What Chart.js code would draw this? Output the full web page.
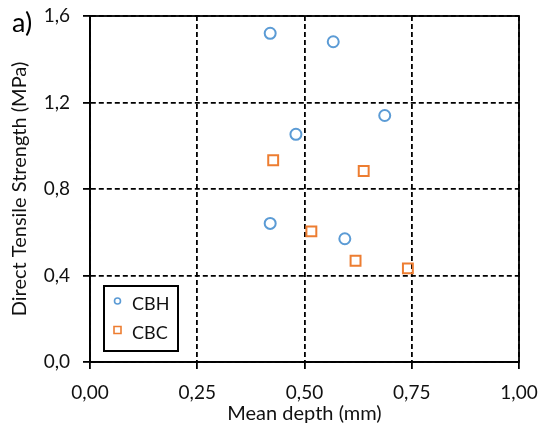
<!DOCTYPE html>
<html lang="en">
<head>
<meta charset="UTF-8">
<title>Direct tensile strength vs mean depth</title>
<script src="https://cdn.jsdelivr.net/npm/chart.js"></script>
<style>
  html, body { margin: 0; padding: 0; background: #fff; }
</style>
</head>
<body>
<canvas id="chart" width="542" height="432"></canvas>
<script>
// mean depth (mm) / direct tensile strength (MPa) for each specimen
const cbhDepth    = [0.420, 0.567, 0.687, 0.480, 0.420, 0.594];
const cbhStrength = [1.520, 1.481, 1.140, 1.053, 0.641, 0.570];
const cbcDepth    = [0.427, 0.638, 0.516, 0.619, 0.741];
const cbcStrength = [0.933, 0.883, 0.604, 0.468, 0.433];

const seriesNames = ['CBH', 'CBC'];
const xRange = [0, 1, 0.25];    // min, max, step
const yRange = [0, 1.6, 0.4];

const FONT = 'Lato, "Open Sans", sans-serif';
const TICK_SIZE = 19;
const TITLE_SIZE = 20;
const BLUE = '#5B9BD5';
const ORANGE = '#ED7D31';

const toPoints = (xs, ys) => xs.map((x, i) => ({ x: x, y: ys[i] }));

// solid frame round the plot area (the outer grid lines are dashed otherwise)
const frame = {
    id: 'frame',
    beforeDatasetsDraw(chart) {
        const { ctx, chartArea: a } = chart;
        ctx.save();
        ctx.strokeStyle = '#000';
        ctx.lineWidth = 1.8;
        ctx.strokeRect(a.left, a.top, a.right - a.left, a.bottom - a.top);
        ctx.restore();
    }
};

// boxed legend sitting in the lower left corner of the plot
const legendBox = {
    id: 'legendBox',
    afterDatasetsDraw(chart) {
        const { ctx, chartArea: a } = chart;
        const x = a.left + 14, y = a.bottom - 76, w = 74, h = 65;
        ctx.save();
        ctx.fillStyle = '#fff';
        ctx.fillRect(x, y, w, h);
        ctx.strokeStyle = '#000';
        ctx.lineWidth = 2;
        ctx.strokeRect(x, y, w, h);
        chart.data.datasets.forEach((ds, i) => {
            const cy = y + 15 + i * 29;
            const cx = x + 13.5;
            ctx.strokeStyle = ds.borderColor;
            ctx.lineWidth = 1.6;
            ctx.beginPath();
            if (ds.pointStyle === 'rect') {
                ctx.rect(cx - 3.5, cy - 3.5, 7, 7);
            } else {
                ctx.arc(cx, cy, 3, 0, Math.PI * 2);
            }
            ctx.stroke();
            ctx.fillStyle = '#111';
            ctx.font = '18px ' + FONT;
            ctx.textBaseline = 'middle';
            ctx.textAlign = 'left';
            ctx.fillText(ds.label, x + 28, cy + 3);
        });
        ctx.restore();
    }
};

// panel letter top left
const panelTag = {
    id: 'panelTag',
    afterDraw(chart) {
        const ctx = chart.ctx;
        ctx.save();
        ctx.fillStyle = '#000';
        ctx.font = '27px ' + FONT;
        ctx.textBaseline = 'middle';
        ctx.textAlign = 'left';
        ctx.fillText('a)', 12, 23);
        ctx.restore();
    }
};

const gridOpts = {
    color: '#000',
    lineWidth: 1.8,
    tickLength: 7,
    tickBorderDash: []
};

new Chart(document.getElementById('chart'), {
    type: 'scatter',
    data: {
        datasets: [
            {
                label: seriesNames[0],
                data: toPoints(cbhDepth, cbhStrength),
                pointStyle: 'circle',
                pointRadius: 5.5,
                pointBorderWidth: 2,
                borderColor: BLUE,
                backgroundColor: 'rgba(0,0,0,0)'
            },
            {
                label: seriesNames[1],
                data: toPoints(cbcDepth, cbcStrength),
                pointStyle: 'rect',
                pointRadius: 7,
                pointBorderWidth: 2,
                borderColor: ORANGE,
                backgroundColor: 'rgba(0,0,0,0)'
            }
        ]
    },
    options: {
        responsive: false,
        animation: false,
        devicePixelRatio: 1,
        layout: { padding: { left: 0, right: 23, top: 16, bottom: 0 } },
        plugins: {
            legend: { display: false },
            tooltip: { enabled: false }
        },
        scales: {
            x: {
                type: 'linear',
                min: xRange[0], max: xRange[1],
                grid: gridOpts,
                border: { color: '#000', width: 1.8, dash: [5, 3] },
                ticks: {
                    stepSize: xRange[2],
                    color: '#111',
                    padding: 12,
                    font: { family: FONT, size: TICK_SIZE },
                    callback: v => v.toFixed(2).replace('.', ',')
                },
                title: {
                    display: true,
                    text: 'Mean depth (mm)',
                    color: '#111',
                    font: { family: FONT, size: TITLE_SIZE },
                    padding: { top: 0, bottom: 6 }
                },
                afterFit: s => {
                    s.height = 70;
                    // end labels may hang past the plot edges
                    s.paddingLeft = 0;
                    s.paddingRight = 0;
                }
            },
            y: {
                type: 'linear',
                min: yRange[0], max: yRange[1],
                grid: gridOpts,
                border: { color: '#000', width: 1.8, dash: [5, 3] },
                ticks: {
                    stepSize: yRange[2],
                    color: '#111',
                    padding: 13,
                    font: { family: FONT, size: TICK_SIZE },
                    callback: v => v.toFixed(1).replace('.', ',')
                },
                title: {
                    display: true,
                    text: 'Direct Tensile Strength (MPa)',
                    color: '#111',
                    font: { family: FONT, size: TITLE_SIZE },
                    padding: { top: 8, bottom: 0 }
                },
                afterFit: s => {
                    s.width = 90;
                    s.paddingTop = 0;
                    s.paddingBottom = 0;
                }
            }
        }
    },
    plugins: [frame, legendBox, panelTag]
});
</script>
</body>
</html>
